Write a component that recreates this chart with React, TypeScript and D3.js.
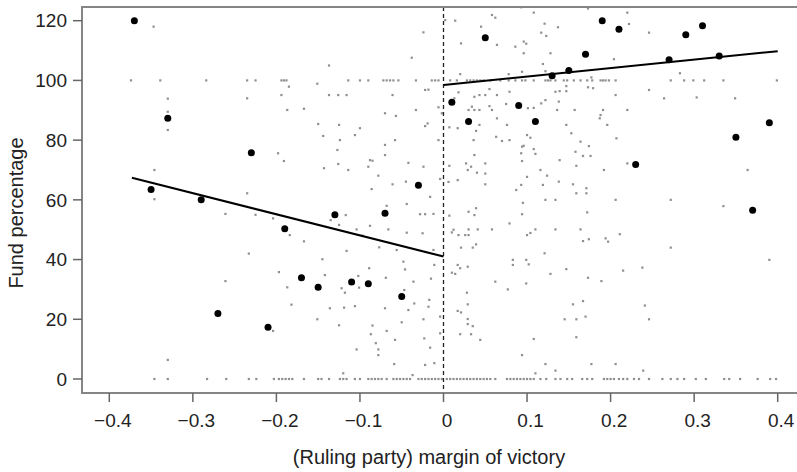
import React from "react";
import * as d3 from "d3";

// ---------- data ----------
const binXLeft = [-0.37, -0.35, -0.33, -0.29, -0.27, -0.23, -0.21, -0.19, -0.17, -0.15, -0.13, -0.11, -0.09, -0.07, -0.05, -0.03];
const binYLeft = [120, 63.5, 87.3, 60, 21.9, 75.8, 17.3, 50.3, 33.9, 30.7, 55, 32.5, 31.9, 55.5, 27.6, 64.9];
const binXRight = [0.01, 0.03, 0.05, 0.09, 0.11, 0.13, 0.15, 0.17, 0.19, 0.21, 0.23, 0.27, 0.29, 0.31, 0.33, 0.35, 0.37, 0.39];
const binYRight = [92.7, 86.2, 114.3, 91.6, 86.2, 101.6, 103.3, 108.8, 120, 117.1, 71.8, 106.9, 115.3, 118.3, 108.2, 81, 56.5, 85.8];

const fitLeft: [number, number][] = [[-0.373, 67.4], [0, 41.0]];
const fitRight: [number, number][] = [[0, 98.5], [0.4, 109.8]];

const rowZeroX = [
  -0.346, -0.33, -0.283, -0.26, -0.233, -0.224, -0.203, -0.197, -0.193, -0.189, -0.185, -0.181, -0.167, -0.15, -0.146, -0.137,
  -0.124, -0.12, -0.116, -0.106, -0.1, -0.09, -0.086, -0.082, -0.078, -0.074, -0.068, -0.06, -0.056, -0.052, -0.048, -0.044, -0.04,
  -0.03, -0.026, -0.022, -0.018, -0.014, -0.01, -0.006, -0.002,
  0.004, 0.008, 0.012, 0.016, 0.02, 0.024, 0.028, 0.032, 0.036, 0.04, 0.044, 0.048, 0.052, 0.056, 0.062, 0.076, 0.08, 0.084, 0.088,
  0.092, 0.096, 0.1, 0.104, 0.108, 0.116, 0.123, 0.134, 0.14, 0.148, 0.154, 0.166, 0.172, 0.178, 0.192, 0.196, 0.2, 0.204, 0.21,
  0.215, 0.22, 0.228, 0.234, 0.246, 0.262, 0.272, 0.28, 0.288, 0.302, 0.314, 0.336, 0.342, 0.355, 0.376, 0.391, 0.398,
];

const rowHundredX = [
  -0.374, -0.339, -0.284, -0.235, -0.225, -0.194, -0.191, -0.188, -0.114, -0.1, -0.09, -0.072, -0.068, -0.064, -0.06, -0.054, -0.033,
  -0.014, -0.01, -0.006,
  0.008, 0.016, 0.028, 0.032, 0.036, 0.04, 0.044, 0.048, 0.056, 0.068, 0.078, 0.086, 0.094, 0.098, 0.108, 0.122, 0.125, 0.128, 0.134,
  0.144, 0.148, 0.156, 0.164, 0.172, 0.178, 0.188, 0.191, 0.194, 0.198, 0.206, 0.272, 0.288, 0.299, 0.312, 0.335, 0.399,
];

const scatterLeft: [number, number][] = [
  [-0.347, 118], [-0.33, 93.9], [-0.33, 89.5], [-0.33, 83.4], [-0.346, 70], [-0.346, 60.2], [-0.235, 94], [-0.235, 62.2],
  [-0.198, 75.6], [-0.191, 73], [-0.194, 95.1], [-0.185, 97.9], [-0.187, 90.1], [-0.167, 90.5], [-0.151, 98.9], [-0.137, 105],
  [-0.15, 85.4], [-0.144, 81.4], [-0.143, 70.6], [-0.137, 95.1], [-0.126, 95.1], [-0.116, 95.1], [-0.125, 85.1], [-0.127, 76.7],
  [-0.124, 80], [-0.126, 72], [-0.114, 70], [-0.106, 81.7], [-0.1, 84], [-0.09, 71.1], [-0.088, 73.3], [-0.085, 73.1],
  [-0.086, 63.6], [-0.078, 68.1], [-0.07, 78.4], [-0.07, 75], [-0.07, 89], [-0.061, 95.1], [-0.057, 88.1], [-0.058, 80],
  [-0.061, 65.2], [-0.045, 66.1], [-0.042, 72.4], [-0.038, 107.6], [-0.033, 90.1], [-0.024, 116.1], [-0.024, 71.1], [-0.022, 96.8],
  [-0.018, 96.9], [-0.022, 84.7], [-0.019, 85.6], [-0.016, 61], [-0.006, 91], [-0.002, 89], [-0.006, 80], [-0.004, 67],
  [-0.261, 55.3], [-0.225, 55], [-0.204, 53.8], [-0.184, 48.2], [-0.167, 46.1], [-0.233, 42], [-0.197, 35.8], [-0.187, 30.7],
  [-0.182, 24.9], [-0.261, 32.8], [-0.33, 6.4], [-0.204, 16.1], [-0.151, 20], [-0.145, 40.1], [-0.142, 34.8], [-0.136, 23.7],
  [-0.135, 53.2], [-0.125, 51.6], [-0.117, 54.9], [-0.116, 42.9], [-0.122, 30.4], [-0.118, 28.9], [-0.119, 23.9], [-0.125, 18],
  [-0.12, 1.9], [-0.106, 24.4], [-0.104, 50.1], [-0.102, 34.5], [-0.101, 30.6], [-0.104, 9.9], [-0.097, 48], [-0.088, 51.3],
  [-0.089, 37.1], [-0.085, 17.9], [-0.087, 15], [-0.081, 12], [-0.078, 9.9], [-0.078, 8], [-0.077, 44.1], [-0.068, 58],
  [-0.066, 50.1], [-0.07, 23.7], [-0.069, 33.9], [-0.068, 16.1], [-0.059, 5], [-0.056, 43.2], [-0.058, 13.1], [-0.048, 39.3],
  [-0.05, 19], [-0.047, 29.8], [-0.046, 36.7], [-0.044, 58.6], [-0.044, 49], [-0.042, 23.1], [-0.037, 1.3], [-0.036, 32.6],
  [-0.035, 25.3], [-0.028, 55.2], [-0.022, 55.2], [-0.025, 48.8], [-0.024, 20], [-0.023, 13.6], [-0.022, 4.7], [-0.018, 24.2],
  [-0.017, 26.5], [-0.016, 10.5], [-0.015, 33.6], [-0.012, 55.3], [-0.012, 43.2], [-0.011, 5.3], [-0.004, 15.3], [-0.004, 20.9],
  [-0.011, 38.2],
];

const scatterRight: [number, number][] = [
  [0.002, 120.2], [0.014, 120], [0.021, 112.4], [0.045, 118], [0.058, 121.9], [0.062, 121], [0.064, 111.9], [0.093, 124.5],
  [0.108, 122.7], [0.086, 111.3], [0.096, 113], [0.099, 112.3], [0.096, 109.1], [0.121, 119], [0.137, 117.8], [0.117, 116],
  [0.123, 114.9], [0.128, 109.1], [0.119, 105.5], [0.122, 103.1], [0.173, 124.1], [0.22, 122.7], [0.222, 118.9], [0.246, 116],
  [0.204, 107.1], [0.02, 102.1], [0.078, 102.1], [0.094, 102.9], [0.283, 102.4], [0.177, 101], [0.173, 97.7], [0.179, 97.4],
  [0.018, 96], [0.043, 95.1], [0.037, 94.5], [0.05, 95.1], [0.055, 97.1], [0.064, 95.1], [0.079, 96.2], [0.134, 96.2],
  [0.139, 96.4], [0.147, 98.1], [0.147, 96.4], [0.138, 92.9], [0.122, 93.4], [0.117, 92.3], [0.075, 92.1], [0.055, 91.4],
  [0.034, 91.2], [0.03, 90.1], [0.037, 90.1], [0.043, 90.1], [0.058, 90.1], [0.101, 90.7], [0.108, 90.8], [0.136, 90.1],
  [0.157, 90.1], [0.191, 90.1], [0.22, 90.1], [0.206, 95.1], [0.246, 96.8], [0.264, 94], [0.303, 94.3], [0.349, 94],
  [0.013, 94], [0.007, 84.3], [0.017, 84], [0.043, 85.1], [0.039, 83.1], [0.064, 87.3], [0.076, 85.1], [0.147, 85.1],
  [0.153, 82.3], [0.188, 88.4], [0.187, 87.3], [0.196, 85.1], [0.207, 80.6], [0.036, 80], [0.063, 81.1], [0.07, 79.7],
  [0.079, 80], [0.1, 81.7], [0.104, 80.8], [0.096, 78.1], [0.094, 77.8], [0.108, 77], [0.11, 75.4], [0.093, 75.6],
  [0.164, 79.5], [0.174, 78], [0.158, 76.1], [0.167, 74.7], [0.176, 74.7], [0.037, 75], [0.007, 71.4], [0.027, 72.2],
  [0.029, 70], [0.033, 71.1], [0.04, 69.1], [0.05, 72.2], [0.05, 68.8], [0.094, 73], [0.1, 67.7], [0.116, 70],
  [0.124, 68.1], [0.139, 73.3], [0.159, 71.4], [0.192, 70], [0.22, 72.2], [0.364, 70], [0.017, 66.6], [0.006, 66],
  [0.05, 65.2], [0.087, 63.3], [0.093, 65], [0.119, 65], [0.138, 66.1], [0.155, 65.2], [0.159, 62.2], [0.171, 63.9],
  [0.171, 62.2], [0.122, 60], [0.134, 60], [0.206, 60], [0.272, 60],
  [0.007, 54.7], [0.03, 56], [0.037, 54.9], [0.039, 57.2], [0.01, 49.1], [0.012, 50], [0.018, 48.2], [0.026, 48.2],
  [0.03, 48.2], [0.03, 50.1], [0.041, 50.1], [0.039, 45.1], [0.035, 44], [0.021, 44], [0.058, 50.1], [0.079, 52.1],
  [0.094, 55.2], [0.095, 59], [0.1, 48.2], [0.104, 48.9], [0.11, 50.1], [0.134, 50.1], [0.121, 42.1], [0.164, 50.1],
  [0.167, 46.2], [0.174, 46.8], [0.172, 55.8], [0.194, 47.1], [0.197, 46], [0.211, 48.5], [0.272, 44], [0.335, 57.9],
  [0.39, 39.9], [0.01, 35.6], [0.014, 35.2], [0.017, 38.2], [0.02, 37.1], [0.029, 37.6], [0.062, 32.6], [0.077, 30],
  [0.083, 39.9], [0.083, 38.2], [0.099, 39.9], [0.102, 38.4], [0.099, 32], [0.128, 35.2], [0.147, 36.8], [0.173, 33.9],
  [0.189, 32.8], [0.215, 36.3], [0.238, 37.3], [0.028, 28.9], [0.017, 22.8], [0.021, 22.3], [0.029, 25], [0.029, 20.1],
  [0.029, 18.4], [0.035, 17.7], [0.02, 15], [0.033, 15], [0.044, 13.1], [0.155, 25], [0.167, 26.1], [0.17, 20.9],
  [0.159, 20], [0.145, 20], [0.159, 14], [0.108, 13.4], [0.094, 8], [0.122, 5], [0.134, 2.8], [0.11, 1.9],
  [0.177, 5], [0.206, 5], [0.239, 2.8], [0.241, 24.6], [0.246, 20],
];

const xTicks = [-0.4, -0.3, -0.2, -0.1, 0, 0.1, 0.2, 0.3, 0.4];
const xTickLabels = ["\u22120.4", "\u22120.3", "\u22120.2", "\u22120.1", "0", "0.1", "0.2", "0.3", "0.4"];
const yTicks = [0, 20, 40, 60, 80, 100, 120];
const yTickLabels = ["0", "20", "40", "60", "80", "100", "120"];

const xTitle = "(Ruling party) margin of victory";
const yTitle = "Fund percentage";

// ---------- layout ----------
const W = 797;
const H = 472;
const boxLeft = 82;
const boxTop = 7;
const boxBottom = 393;
const boxRight = 810;
const FONT = "'Liberation Sans', Arial, Helvetica, sans-serif";

export default function App() {
  const x = d3.scaleLinear().domain([-0.4, 0.4]).range([109.3, 777.7]);
  const y = d3.scaleLinear().domain([0, 120]).range([379, 20.7]);
  const line = d3.line<[number, number]>().x((d) => x(d[0])).y((d) => y(d[1]));

  const grayPts: [number, number][] = [
    ...rowZeroX.map((v) => [v, 0] as [number, number]),
    ...rowHundredX.map((v) => [v, 100] as [number, number]),
    ...scatterLeft,
    ...scatterRight,
  ];
  const bins: [number, number][] = [
    ...binXLeft.map((v, i) => [v, binYLeft[i]] as [number, number]),
    ...binXRight.map((v, i) => [v, binYRight[i]] as [number, number]),
  ];

  return (
    <svg
      width={W}
      height={H}
      style={{ position: "absolute", left: 0, top: 0, background: "#fff" }}
      fontFamily={FONT}
    >
      <rect x={0} y={0} width={W} height={H} fill="#fff" />
      {/* gray raw data */}
      <g fill="#8f8f8f">
        {grayPts.map((d, i) => (
          <rect key={i} x={x(d[0]) - 1.1} y={y(d[1]) - 1.1} width={2.2} height={2.2} />
        ))}
      </g>
      {/* cutoff */}
      <line x1={x(0)} x2={x(0)} y1={boxTop} y2={boxBottom} stroke="#222" strokeWidth={1.3} strokeDasharray="4,3" />
      {/* fits */}
      <path d={line(fitLeft) || ""} fill="none" stroke="#000" strokeWidth={2} />
      <path d={line(fitRight) || ""} fill="none" stroke="#000" strokeWidth={2} />
      {/* binned means */}
      <g fill="#000">
        {bins.map((d, i) => (
          <circle key={i} cx={x(d[0])} cy={y(d[1])} r={3.5} />
        ))}
      </g>
      {/* box */}
      <path
        d={`M${boxRight},${boxTop}H${boxLeft}V${boxBottom}H${boxRight}`}
        fill="none"
        stroke="#858585"
        strokeWidth={2}
      />
      {/* x axis ticks */}
      <g>
        {xTicks.map((t, i) => (
          <g key={i}>
            <line x1={x(t)} x2={x(t)} y1={boxBottom} y2={boxBottom + 9} stroke="#666" strokeWidth={1.5} />
            <text x={x(t) + 3.5} y={426.5} textAnchor="middle" fontSize={19} fill="#222">
              {xTickLabels[i]}
            </text>
          </g>
        ))}
      </g>
      {/* y axis ticks */}
      <g>
        {yTicks.map((t, i) => (
          <g key={i}>
            <line x1={boxLeft - 9} x2={boxLeft} y1={y(t)} y2={y(t)} stroke="#666" strokeWidth={1.5} />
            <text x={67} y={y(t)} dy="0.35em" textAnchor="end" fontSize={19} fill="#222">
              {yTickLabels[i]}
            </text>
          </g>
        ))}
      </g>
      {/* titles */}
      <text x={429} y={464} textAnchor="middle" fontSize={20} fill="#222">
        {xTitle}
      </text>
      <text
        transform={`translate(22.5,${213}) rotate(-90)`}
        textAnchor="middle"
        fontSize={20}
        fill="#222"
      >
        {yTitle}
      </text>
    </svg>
  );
}
